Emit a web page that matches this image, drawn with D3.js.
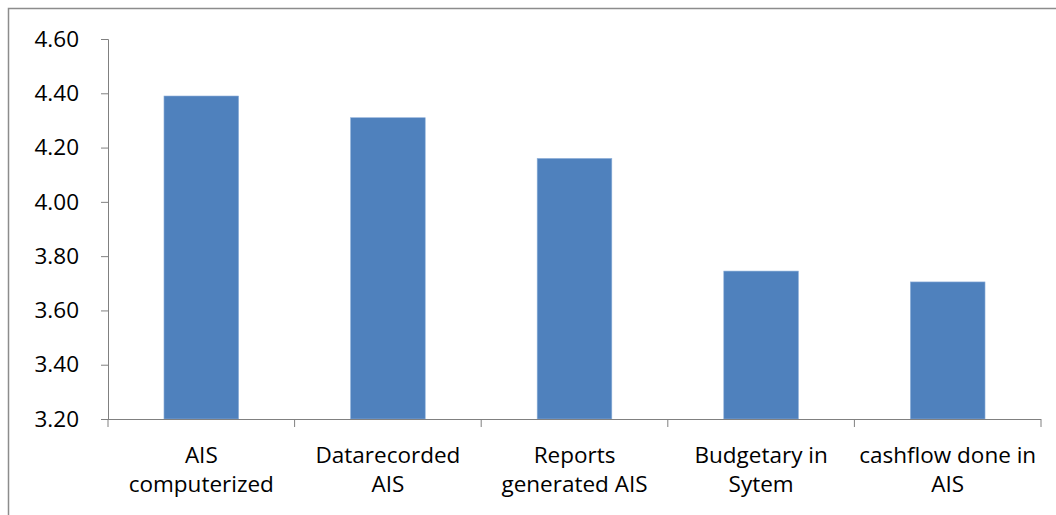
<!DOCTYPE html>
<html lang="en">
<head>
    <meta charset="UTF-8">
    <title>AIS bar chart</title>
    <style>
        body { margin: 0; background: #fff; }
        svg text { font-family: "Open Sans", sans-serif; fill: #000; }
    </style>
    <script src="https://cdn.jsdelivr.net/npm/d3@7"></script>
</head>
<body>
<script>
    // Data
    const categories = [
        ["AIS", "computerized"],
        ["Datarecorded", "AIS"],
        ["Reports", "generated AIS"],
        ["Budgetary in", "Sytem"],
        ["cashflow done in", "AIS"]
    ];
    const values = [4.39, 4.31, 4.16, 3.745, 3.705];
    const yTicks = [3.2, 3.4, 3.6, 3.8, 4.0, 4.2, 4.4, 4.6];

    const width = 1056, height = 515;
    const plot = { left: 108, right: 1041, top: 39, bottom: 419 };

    const svg = d3.select("body").append("svg")
        .attr("width", width)
        .attr("height", height);

    // chart border (only top and left are visible in the frame)
    svg.append("rect")
        .attr("x", 8.5).attr("y", 8.5)
        .attr("width", width + 10).attr("height", height + 10)
        .attr("fill", "none")
        .attr("stroke", "#8c8c8c")
        .attr("stroke-width", 1.5);

    const x = d3.scaleBand()
        .domain(d3.range(categories.length))
        .range([plot.left, plot.right]);

    const y = d3.scaleLinear()
        .domain([3.2, 4.6])
        .range([plot.bottom, plot.top]);

    const barW = x.bandwidth() * 0.4;

    // bars
    svg.append("g").selectAll("rect")
        .data(values)
        .join("rect")
        .attr("x", (d, i) => x(i) + (x.bandwidth() - barW) / 2)
        .attr("y", d => y(d))
        .attr("width", barW)
        .attr("height", d => y(3.2) - y(d))
        .attr("fill", "#4F81BD")
        .attr("stroke", "#8fb0da")
        .attr("stroke-width", 0.6);

    // y axis
    const yAxis = svg.append("g")
        .attr("transform", `translate(${plot.left},0)`)
        .call(d3.axisLeft(y).tickValues(yTicks).tickFormat(d3.format(".2f")).tickSize(7).tickPadding(22));
    yAxis.select(".domain").attr("stroke", "#808080");
    yAxis.selectAll(".tick line").attr("stroke", "#808080");
    yAxis.selectAll(".tick text")
        .attr("font-size", "22.5px")
        .attr("font-family", "Open Sans, sans-serif")
        .attr("fill", "#000");

    // x axis: ticks sit on the category boundaries
    const xg = svg.append("g");
    xg.append("line")
        .attr("x1", plot.left).attr("x2", plot.right)
        .attr("y1", plot.bottom + 0.5).attr("y2", plot.bottom + 0.5)
        .attr("stroke", "#808080");
    xg.selectAll(".xt")
        .data(d3.range(categories.length + 1))
        .join("line")
        .attr("class", "xt")
        .attr("x1", i => i < categories.length ? x(i) : plot.right)
        .attr("x2", i => i < categories.length ? x(i) : plot.right)
        .attr("y1", plot.bottom)
        .attr("y2", plot.bottom + 8)
        .attr("stroke", "#808080");

    // category labels, two lines each
    const labels = xg.selectAll(".xl")
        .data(categories)
        .join("text")
        .attr("class", "xl")
        .attr("text-anchor", "middle")
        .attr("font-size", "22.5px")
        .attr("transform", (d, i) => `translate(${x(i) + x.bandwidth() / 2},${plot.bottom + 44})`);
    labels.selectAll("tspan")
        .data(d => d)
        .join("tspan")
        .attr("x", 0)
        .attr("y", (d, j) => j * 29)
        .text(d => d);
</script>
</body>
</html>
